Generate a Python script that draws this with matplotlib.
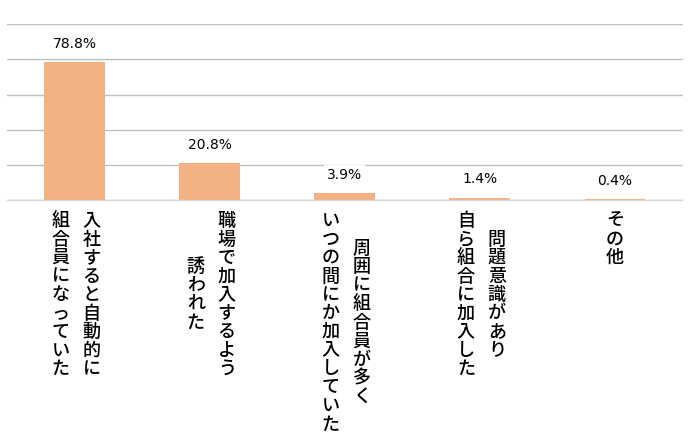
import matplotlib
matplotlib.use("Agg")
import matplotlib.pyplot as plt

# data (percent)
labels = [
    "入社すると自動的に\n組合員になっていた",
    "職場で加入するよう\n誘われた",
    "周囲に組合員が多く\nいつの間にか加入していた",
    "問題意識があり\n自ら組合に加入した",
    "その他",
]
values = [78.8, 20.8, 3.9, 1.4, 0.4]

bar_color = "#F4B183"
grid_color = "#C0C0C0"
jp_font = ["Noto Sans CJK JP", "DejaVu Sans"]

fig = plt.figure(figsize=(7, 4.42), dpi=100)
ax = fig.add_axes([0.01, 0.5475, 0.965, 0.3975])

x = list(range(len(values)))
ax.bar(x, values, width=0.45, color=bar_color, zorder=2)

ax.set_xlim(-0.5, len(values) - 0.5)
ax.set_ylim(0, 100)
ax.set_yticks([0, 20, 40, 60, 80, 100])
ax.yaxis.grid(True, color=grid_color, linewidth=1)
ax.set_axisbelow(True)
ax.tick_params(left=False, bottom=False, labelleft=False, labelbottom=False)
for side in ["top", "right", "left"]:
    ax.spines[side].set_visible(False)
ax.spines["bottom"].set_color("#D9D9D9")
ax.spines["bottom"].set_linewidth(1)

# value labels above the bars, white box hides the gridline behind
for i, v in enumerate(values):
    ax.annotate(f"{v:.1f}%", xy=(i, v), xytext=(0, 13), textcoords="offset points",
                ha="center", va="center", fontsize=10, color="black",
                bbox=dict(facecolor="white", edgecolor="none", pad=2), zorder=3)

# vertical Japanese labels: columns read right to left, each column centred
px = 0.72  # points per pixel at 100 dpi
col_gap = 31
char_step = 18.5
for i, lab in enumerate(labels):
    lines = lab.split("\n")
    n = len(lines)
    longest = max(len(s) for s in lines)
    for k, line in enumerate(lines):
        dx = ((n - 1) / 2 - k) * col_gap + (1.5 if n > 1 else 0)
        start = (longest - len(line)) / 2
        for j, ch in enumerate(line):
            dy = -(21 + (start + j) * char_step)
            ax.annotate(ch, xy=(i, 0), xycoords=("data", "axes fraction"),
                        xytext=(dx * px, dy * px), textcoords="offset points",
                        ha="center", va="center", fontsize=13, family=jp_font,
                        fontweight="medium", annotation_clip=False)

fig.savefig("out.png", dpi=100)
